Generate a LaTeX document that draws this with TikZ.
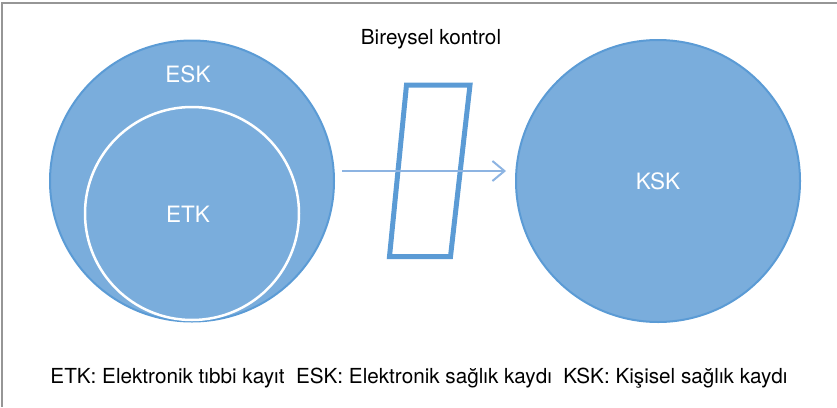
\documentclass[tikz,border=0pt]{standalone}
\usepackage{fontspec}
\setmainfont{TeX Gyre Heros}
\usetikzlibrary{shapes.geometric,arrows.meta}
\definecolor{blobfill}{RGB}{122,173,220}
\definecolor{blobline}{RGB}{91,155,213}
\definecolor{arrowcol}{RGB}{141,180,226}
\definecolor{framecol}{RGB}{150,150,150}
\tikzset{
  blob/.style={ellipse, fill=blobfill, draw=blobline, line width=2pt, inner sep=0pt},
  inner/.style={ellipse, draw=white, line width=2.5pt, inner sep=0pt},
  lbl/.style={text=white, font=\fontsize{22.5}{26}\selectfont, inner sep=0pt},
  note/.style={text=black, font=\fontsize{20.7}{24}\selectfont, inner sep=0pt},
  gate/.style={draw=blobline, line width=5pt, line join=miter},
  flow/.style={draw=arrowcol, line width=2pt, -{Straight Barb[length=12pt,width=20pt,line width=2pt]}},
  frame/.style={draw=framecol, line width=1.2pt}
}
\begin{document}
\begin{tikzpicture}[x=1pt,y=-1pt]
\useasboundingbox (0,0) rectangle (837,407);
\coordinate (f1) at (837,3);
\coordinate (f2) at (2,3);
\coordinate (f3) at (2,407);
\draw[frame] (f1) -- (f2) -- (f3);
\node[blob, minimum width=284pt, minimum height=281pt] (esk) at (192,181) {};
\node[inner, minimum width=214pt, minimum height=213pt] (etk) at (192,213.5) {};
\node[lbl] (eskl) at (188,74) {ESK};
\node[lbl] (etkl) at (188,214) {ETK};
\node[blob, minimum width=284pt, minimum height=282pt] (ksk) at (658,181) {};
\node[lbl] (kskl) at (658,181) {KSK};
\coordinate (p1) at (406.5,85);
\coordinate (p2) at (470,85);
\coordinate (p3) at (450.5,256.5);
\coordinate (p4) at (389.5,256.5);
\draw[gate] (p1) -- (p2) -- (p3) -- (p4) -- cycle;
\coordinate (a1) at (342,171);
\coordinate (a2) at (506,171);
\draw[flow] (a1) -- (a2);
\node[note] (title) at (431,39) {Bireysel kontrol};
\node[note] (legend) at (419,378) {ETK: Elektronik tıbbi kayıt\ \ ESK: Elektronik sağlık kaydı\ \ KSK: Kişisel sağlık kaydı};
\end{tikzpicture}
\end{document}
